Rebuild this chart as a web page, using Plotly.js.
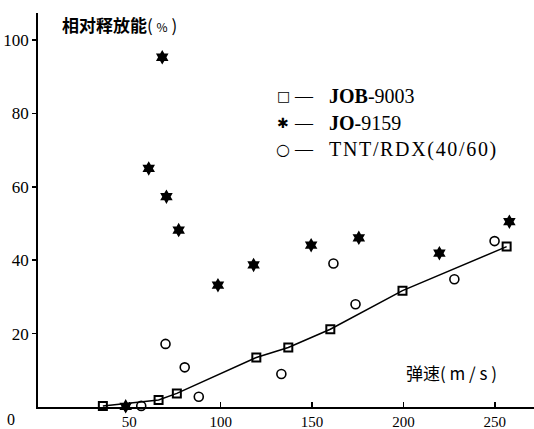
<!DOCTYPE html>
<html>
<head>
<meta charset="utf-8">
<script src="https://cdn.plot.ly/plotly-3.0.1.min.js"></script>
<style>html,body{margin:0;padding:0;background:#fff;}#chart{width:534px;height:429px;}</style>
</head>
<body>
<div id="chart"></div>
<script>
// JOB-9003 (squares, joined by a line)
const speedJOB = [35.5, 66, 76, 119.5, 137, 160, 199.5, 256.5];
const energyJOB = [0.3, 1.9, 3.7, 13.5, 16.2, 21.2, 31.7, 43.7];
// JO-9159 (stars)
const speedJO = [48, 60.6, 68, 70.3, 77, 98.5, 118, 149.5, 175.6, 219.7, 258];
const energyJO = [0.2, 65, 95.3, 57.3, 48.2, 33.2, 38.7, 44.1, 46.1, 41.9, 50.5];
// TNT/RDX(40/60) (circles)
const speedTNT = [56.5, 69.8, 80.3, 88, 133.2, 161.7, 173.8, 227.9, 249.9];
const energyTNT = [0.3, 17.2, 10.8, 2.8, 9, 39.1, 28, 34.8, 45.2];

const xTicks = [50, 100, 150, 200, 250];
const yTicks = [20, 40, 60, 80, 100];

const serif = "Liberation Serif, Times New Roman, serif";
const cjk = "Noto Sans CJK SC, sans-serif";

const traces = [
  {x: speedJOB, y: energyJOB, mode: 'lines+markers', type: 'scatter',
   line: {color: '#000', width: 1.5},
   marker: {symbol: 'square-open', size: 8, color: '#000', line: {width: 2, color: '#000'}},
   cliponaxis: false},
  {x: speedJO, y: energyJO, mode: 'markers', type: 'scatter',
   marker: {symbol: 'hexagram', size: 11, color: '#000', line: {width: 0}},
   cliponaxis: false},
  {x: speedTNT, y: energyTNT, mode: 'markers', type: 'scatter',
   marker: {symbol: 'circle-open', size: 9, color: '#000', line: {width: 1.6, color: '#000'}},
   cliponaxis: false}
];

// helper: pixel -> paper for text placement
const plotL = 38, plotW = 496, plotT = 13, plotH = 394;
const px = p => (p - plotL) / plotW;
const py = p => (plotT + plotH - p) / plotH;

const sp = '\u200A';
const legendRows = [
  {sym: '□', name: '<b>JOB</b>-9003', y: 96, symSize: 14},
  {sym: '✱', name: '<b>JO</b>-9159', y: 123, symSize: 14},
  {sym: '○', name: ['T','N','T','/','R','D','X','(','4','0','/','6','0',')'].join(sp), y: 149, symSize: 16}
];

const annotations = [
  {x: px(60), y: py(25), xref: 'paper', yref: 'paper', xanchor: 'left', yanchor: 'middle',
   text: '<b>相对释放能</b>( <span style="font-size:12px">%</span> )', showarrow: false,
   font: {family: cjk, size: 17, color: '#000'}},
  {x: px(404), y: py(372), xref: 'paper', yref: 'paper', xanchor: 'left', yanchor: 'middle',
   text: '弹速( m / s )', showarrow: false,
   font: {family: cjk, size: 17, color: '#000'}},
  {x: px(11), y: py(419), xref: 'paper', yref: 'paper', xanchor: 'center', yanchor: 'middle',
   text: '0', showarrow: false, font: {family: serif, size: 16, color: '#000'}}
];
legendRows.forEach(r => {
  annotations.push({x: px(283), y: py(r.y), xref: 'paper', yref: 'paper', xanchor: 'center', yanchor: 'middle',
    text: r.sym, showarrow: false, font: {family: 'DejaVu Sans', size: r.symSize, color: '#000'}});
  annotations.push({x: px(304), y: py(r.y), xref: 'paper', yref: 'paper', xanchor: 'center', yanchor: 'middle',
    text: '—', showarrow: false, font: {family: serif, size: 18, color: '#000'}});
  annotations.push({x: px(327), y: py(r.y), xref: 'paper', yref: 'paper', xanchor: 'left', yanchor: 'middle',
    text: r.name, showarrow: false, font: {family: serif, size: 20, color: '#000'}});
});

const layout = {
  width: 534, height: 429,
  margin: {l: 38, r: 0, t: 13, b: 22, pad: 0},
  paper_bgcolor: '#fff', plot_bgcolor: '#fff',
  showlegend: false,
  xaxis: {range: [0, (534 - 38) / 1.827], tickvals: xTicks, ticktext: xTicks.map(String),
    ticks: 'inside', ticklen: 5, tickwidth: 1.5, tickcolor: '#000',
    showline: true, linecolor: '#000', linewidth: 1.8, showgrid: false, zeroline: false,
    tickfont: {family: serif, size: 15, color: '#000'}, ticklabelstandoff: 0, fixedrange: true},
  yaxis: {range: [0, (407 - 13) / 3.67], tickvals: yTicks, ticktext: yTicks.map(String),
    ticks: 'outside', ticklen: 4, tickwidth: 1.5, tickcolor: '#000',
    showline: true, linecolor: '#000', linewidth: 1.8, showgrid: false, zeroline: false,
    tickfont: {family: serif, size: 17, color: '#000'}, fixedrange: true},
  annotations: annotations
};

Plotly.newPlot('chart', traces, layout, {displayModeBar: false, staticPlot: true});
</script>
</body>
</html>
